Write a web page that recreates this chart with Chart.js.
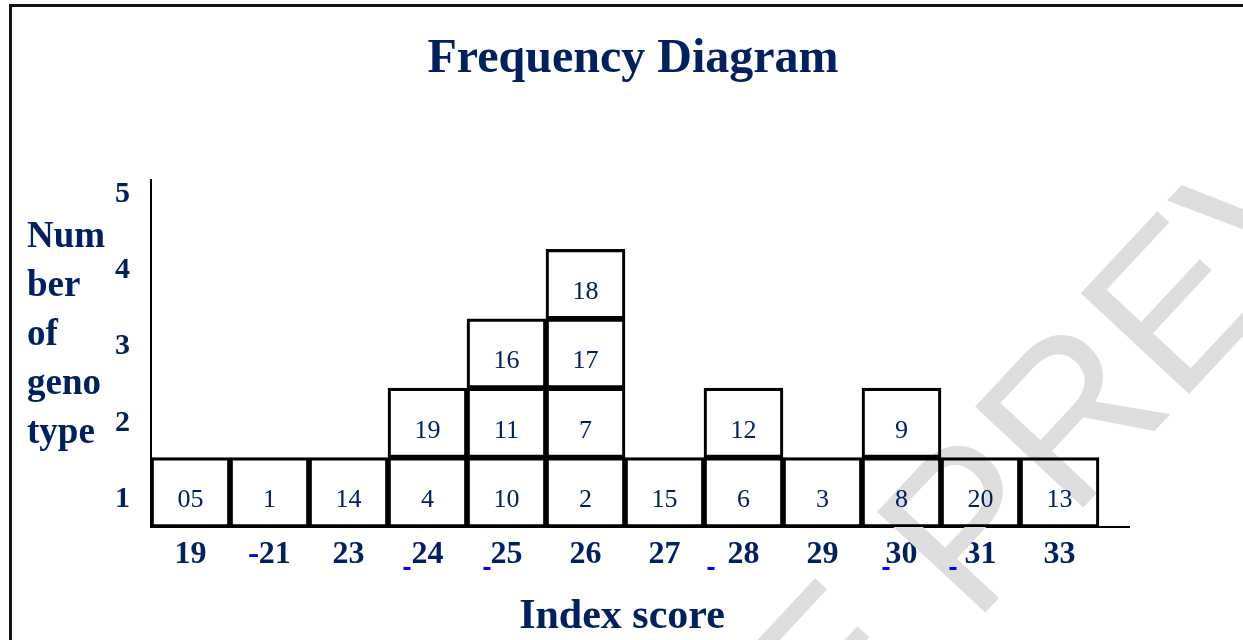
<!DOCTYPE html>
<html><head><meta charset="utf-8">
<script src="https://cdn.jsdelivr.net/npm/chart.js@4.4.1/dist/chart.umd.min.js"></script>
<style>
html,body{margin:0;padding:0;background:#fff;overflow:hidden}
#wrap{position:relative;width:1243px;height:640px}
#frame{position:absolute;left:9px;top:4px;width:1300px;height:700px;border-top:3px solid #111;border-left:3px solid #111}
canvas{position:absolute;left:0;top:0}
</style></head><body>
<div id="wrap"><div id="frame"></div><canvas id="c" width="1243" height="640"></canvas></div>
<script>
// ---- data ----
const scores = ['19', '-21', '23', '24', '25', '26', '27', '28', '29', '30', '31', '33'];
const counts = [1, 1, 1, 2, 3, 4, 1, 2, 1, 2, 1, 1];
const genotypes = [
  ['05'], ['1'], ['14'], ['4', '19'], ['10', '11', '16'], ['2', '7', '17', '18'],
  ['15'], ['6', '12'], ['3'], ['8', '9'], ['20'], ['13']
];
const yTickValues = [0.4, 1.5, 2.6, 3.7, 4.8];
const yTickLabels = ['1', '2', '3', '4', '5'];
const titleText = 'Frequency Diagram';
const yTitleLines = ['Num', 'ber', 'of', 'geno', 'type'];
const xTitleText = 'Index score';

const NAVY = '#002060';
const SERIF = '"Liberation Serif", "Times New Roman", serif';
const X_TICK_FONT = 'bold 32px ' + SERIF;
const X_TICK_PAD = 9;

// one dataset per stacking level
const maxCount = Math.max(...counts);
const datasets = [];
for (let level = 0; level < maxCount; level++) {
  const pts = [];
  counts.forEach((c, i) => { if (c > level) pts.push({ x: i, y: 1, g: genotypes[i][level] }); });
  datasets.push({
    label: 'level ' + (level + 1),
    data: pts,
    backgroundColor: 'rgba(255,255,255,0)',
    borderColor: '#000',
    borderWidth: 2.5,
    borderSkipped: false,
    categoryPercentage: 1,
    barPercentage: 1
  });
}

const decor = {
  id: 'decor',
  beforeDatasetsDraw(chart) {
    const ctx = chart.ctx;
    ctx.save();
    ctx.translate(930, 585);
    ctx.rotate(-47 * Math.PI / 180);
    ctx.font = '215px "Liberation Sans", sans-serif';
    ctx.fillStyle = '#dedede';
    ctx.textBaseline = 'middle';
    ctx.textAlign = 'left';
    const pre = 'FREE ';
    const w = ctx.measureText(pre).width;
    ctx.fillText(pre + 'PREVIEW', -w, 0);
    ctx.restore();
  },
  afterDatasetsDraw(chart) {
    const ctx = chart.ctx;
    ctx.save();
    ctx.font = '26px ' + SERIF;
    ctx.fillStyle = NAVY;
    ctx.textAlign = 'center';
    ctx.textBaseline = 'middle';
    chart.data.datasets.forEach((ds, di) => {
      const meta = chart.getDatasetMeta(di);
      meta.data.forEach((el, j) => {
        ctx.fillText(ds.data[j].g, el.x, (el.y + el.base) / 2 + 8);
      });
    });
    ctx.restore();
  },
  afterDraw(chart) {
    const ctx = chart.ctx;
    const xs = chart.scales.x;
    ctx.save();
    ctx.fillStyle = NAVY;
    // title
    ctx.font = 'bold 48px ' + SERIF;
    ctx.textAlign = 'center';
    ctx.textBaseline = 'alphabetic';
    ctx.fillText(titleText, 633, 72);
    // x title
    ctx.font = 'bold 42px ' + SERIF;
    ctx.fillText(xTitleText, 622, 628);
    // y title (stacked lines)
    ctx.font = 'bold 37px ' + SERIF;
    ctx.textAlign = 'left';
    yTitleLines.forEach((t, i) => ctx.fillText(t, 27, 247 + i * 49));
    // blue hyperlink marks
    ctx.fillStyle = '#0000ff';
    [[3, -21], [4, -20], [7, -33], [9, -16], [10, -28]].forEach(([i, dx]) => {
      ctx.fillRect(xs.getPixelForValue(i) + dx - 3, 567, 7, 3);
    });
    // blue minus sign of "-21"
    ctx.font = X_TICK_FONT;
    ctx.textBaseline = 'middle';
    ctx.textAlign = 'left';
    const lbl = scores[1];
    const lw = ctx.measureText(lbl).width;
    const yMid = xs.top + X_TICK_PAD + 32 * 1.2 / 2;
    ctx.fillText(lbl.charAt(0), xs.getPixelForValue(1) - lw / 2, yMid);
    ctx.restore();
  }
};

new Chart(document.getElementById('c'), {
  type: 'bar',
  data: { datasets },
  plugins: [decor],
  options: {
    responsive: false,
    animation: false,
    layout: { padding: { left: 0, right: 114, top: 180, bottom: 0 } },
    plugins: { legend: { display: false }, tooltip: { enabled: false }, title: { display: false } },
    scales: {
      x: {
        type: 'linear',
        stacked: true,
        offset: false,
        min: -0.5,
        max: 11.88,
        afterBuildTicks: s => { s.ticks = scores.map((_, i) => ({ value: i })); },
        afterFit: s => { s.height = 113; },
        grid: { display: false, drawTicks: false },
        border: { display: true, color: '#000', width: 2 },
        ticks: {
          autoSkip: false, maxRotation: 0, padding: X_TICK_PAD,
          color: NAVY, font: { family: SERIF, size: 32, weight: 'bold' },
          callback: (v, i) => scores[i]
        }
      },
      y: {
        type: 'linear',
        stacked: true,
        min: 0,
        max: 5,
        afterBuildTicks: s => { s.ticks = yTickValues.map(v => ({ value: v })); },
        afterFit: s => { s.width = 151; },
        grid: { display: false, drawTicks: false },
        border: { display: true, color: '#000', width: 2 },
        ticks: {
          padding: 21,
          color: NAVY, font: { family: SERIF, size: 30, weight: 'bold' },
          callback: (v, i) => yTickLabels[i]
        }
      }
    }
  }
});
</script>
</body></html>
